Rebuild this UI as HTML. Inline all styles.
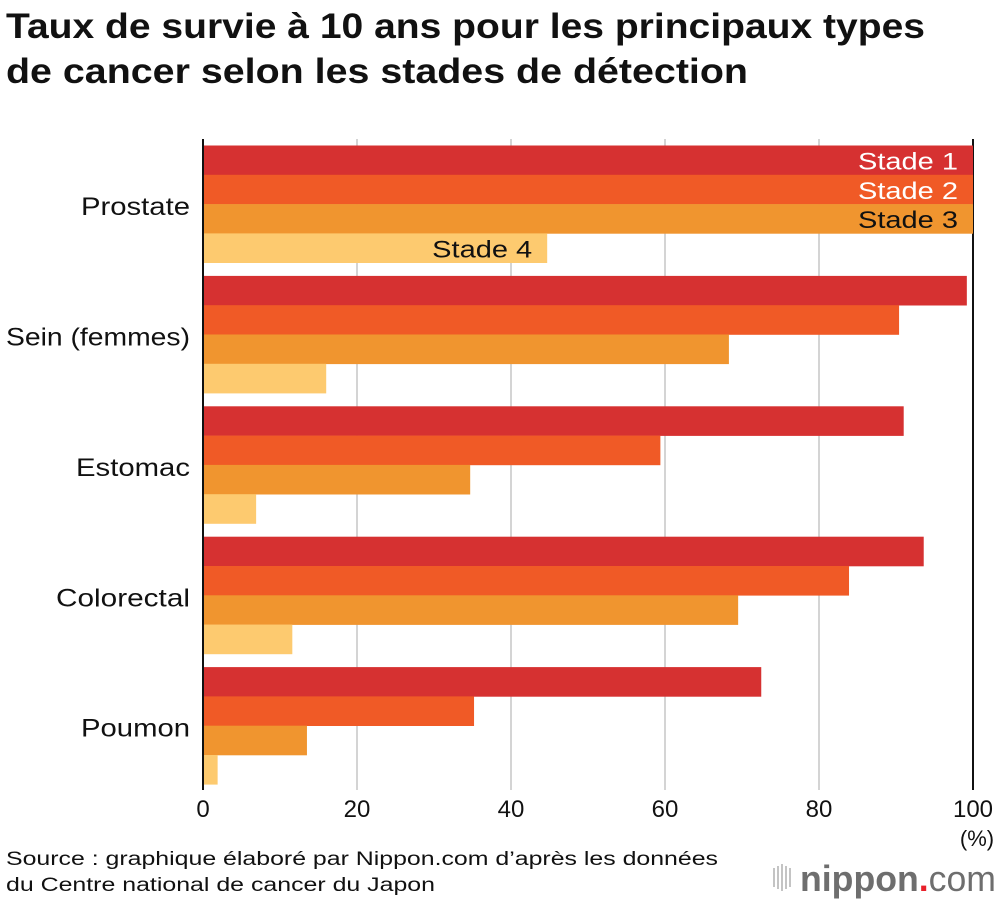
<!DOCTYPE html>
<html><head><meta charset="utf-8"><style>
body{margin:0;background:#fff;width:1000px;height:902px;overflow:hidden;font-family:"Liberation Sans",sans-serif}
</style></head><body>
<svg id="chart" width="1000" height="902" style="position:absolute;left:0;top:0;font-family:'Liberation Sans',sans-serif">
<text x="6" y="38" font-size="35" font-weight="bold" fill="#111" textLength="919" lengthAdjust="spacingAndGlyphs">Taux de survie à 10 ans pour les principaux types</text>
<text x="6" y="83" font-size="35" font-weight="bold" fill="#111" textLength="742" lengthAdjust="spacingAndGlyphs">de cancer selon les stades de détection</text>
<text x="6" y="865" font-size="19" fill="#111" textLength="712" lengthAdjust="spacingAndGlyphs">Source : graphique élaboré par Nippon.com d’après les données</text>
<text x="6" y="891" font-size="19" fill="#111" textLength="429" lengthAdjust="spacingAndGlyphs">du Centre national de cancer du Japon</text>
<g>
<g fill="#c4c4c4"><rect x="773" y="868" width="2" height="19"/><rect x="777" y="866" width="2" height="23"/><rect x="781" y="864" width="2" height="27"/><rect x="785" y="866" width="2" height="23"/><rect x="789" y="868" width="2" height="19"/></g>
<text x="800" y="891" font-size="36" fill="#6e6e6e" textLength="196" lengthAdjust="spacingAndGlyphs"><tspan font-weight="bold">nippon</tspan><tspan fill="#e8202a" font-weight="bold">.</tspan><tspan>com</tspan></text>
</g>
</svg>
<script>
const categories=["Prostate","Sein (femmes)","Estomac","Colorectal","Poumon"];
const stages=["Stade 1","Stade 2","Stade 3","Stade 4"];
const stade1=[100,99.2,91.0,93.6,72.5];
const stade2=[100,90.4,59.4,83.9,35.2];
const stade3=[100,68.3,34.7,69.5,13.5];
const stade4=[44.7,16.0,6.9,11.6,1.9];
const ticks=[0,20,40,60,80,100];
const series=[stade1,stade2,stade3,stade4];
const colors=["#d63131","#f05a26","#f0952f","#fdca6f"];
const NS="http://www.w3.org/2000/svg";
const svg=document.getElementById('chart');
const x0=203,x1=973,top0=145.5,groupH=130.4,barH=29.3;
const xs=v=>x0+(x1-x0)*v/100;
function mk(t,a){const e=document.createElementNS(NS,t);for(const k in a)e.setAttribute(k,a[k]);svg.appendChild(e);return e;}
const catW={"Prostate":109,"Sein (femmes)":184,"Estomac":114,"Colorectal":134,"Poumon":109};
ticks.forEach(t=>{
  if(t>0){const l=mk('line',{x1:xs(t),x2:xs(t),y1:139,y2:790,stroke:t===100?'#111':'#d4d4d4','stroke-width':2});
  
  }
  const tx=mk('text',{x:xs(t),y:817,'text-anchor':'middle','font-size':24,fill:'#111'});
  tx.textContent=t;
  
  
});
const pct=mk('text',{x:977,y:846,'text-anchor':'middle','font-size':22,fill:'#111'});pct.textContent='(%)';


categories.forEach((c,i)=>{
  const gy=top0+i*groupH;
  series.forEach((s,j)=>{
    const r=mk('rect',{x:x0,y:gy+j*barH,width:xs(s[i])-x0,height:barH+0.3,fill:colors[j]});
    
    
  });
  const w=catW[c]||120;
  const lb=mk('text',{x:190-w,y:gy+2*barH+11,'font-size':25,fill:'#111',textLength:w,lengthAdjust:'spacingAndGlyphs'});
  lb.textContent=c;
  
  
});
stages.forEach((st,j)=>{
  const xe=xs(series[j][0])-15;
  const t=mk('text',{x:xe-100,y:top0+j*barH+24,'font-size':24,fill:j<2?'#fff':'#111',textLength:100,lengthAdjust:'spacingAndGlyphs'});
  t.textContent=st;
  
  
});
const ax=mk('line',{x1:x0,x2:x0,y1:139,y2:790,stroke:'#111','stroke-width':2});


</script>
</body></html>
